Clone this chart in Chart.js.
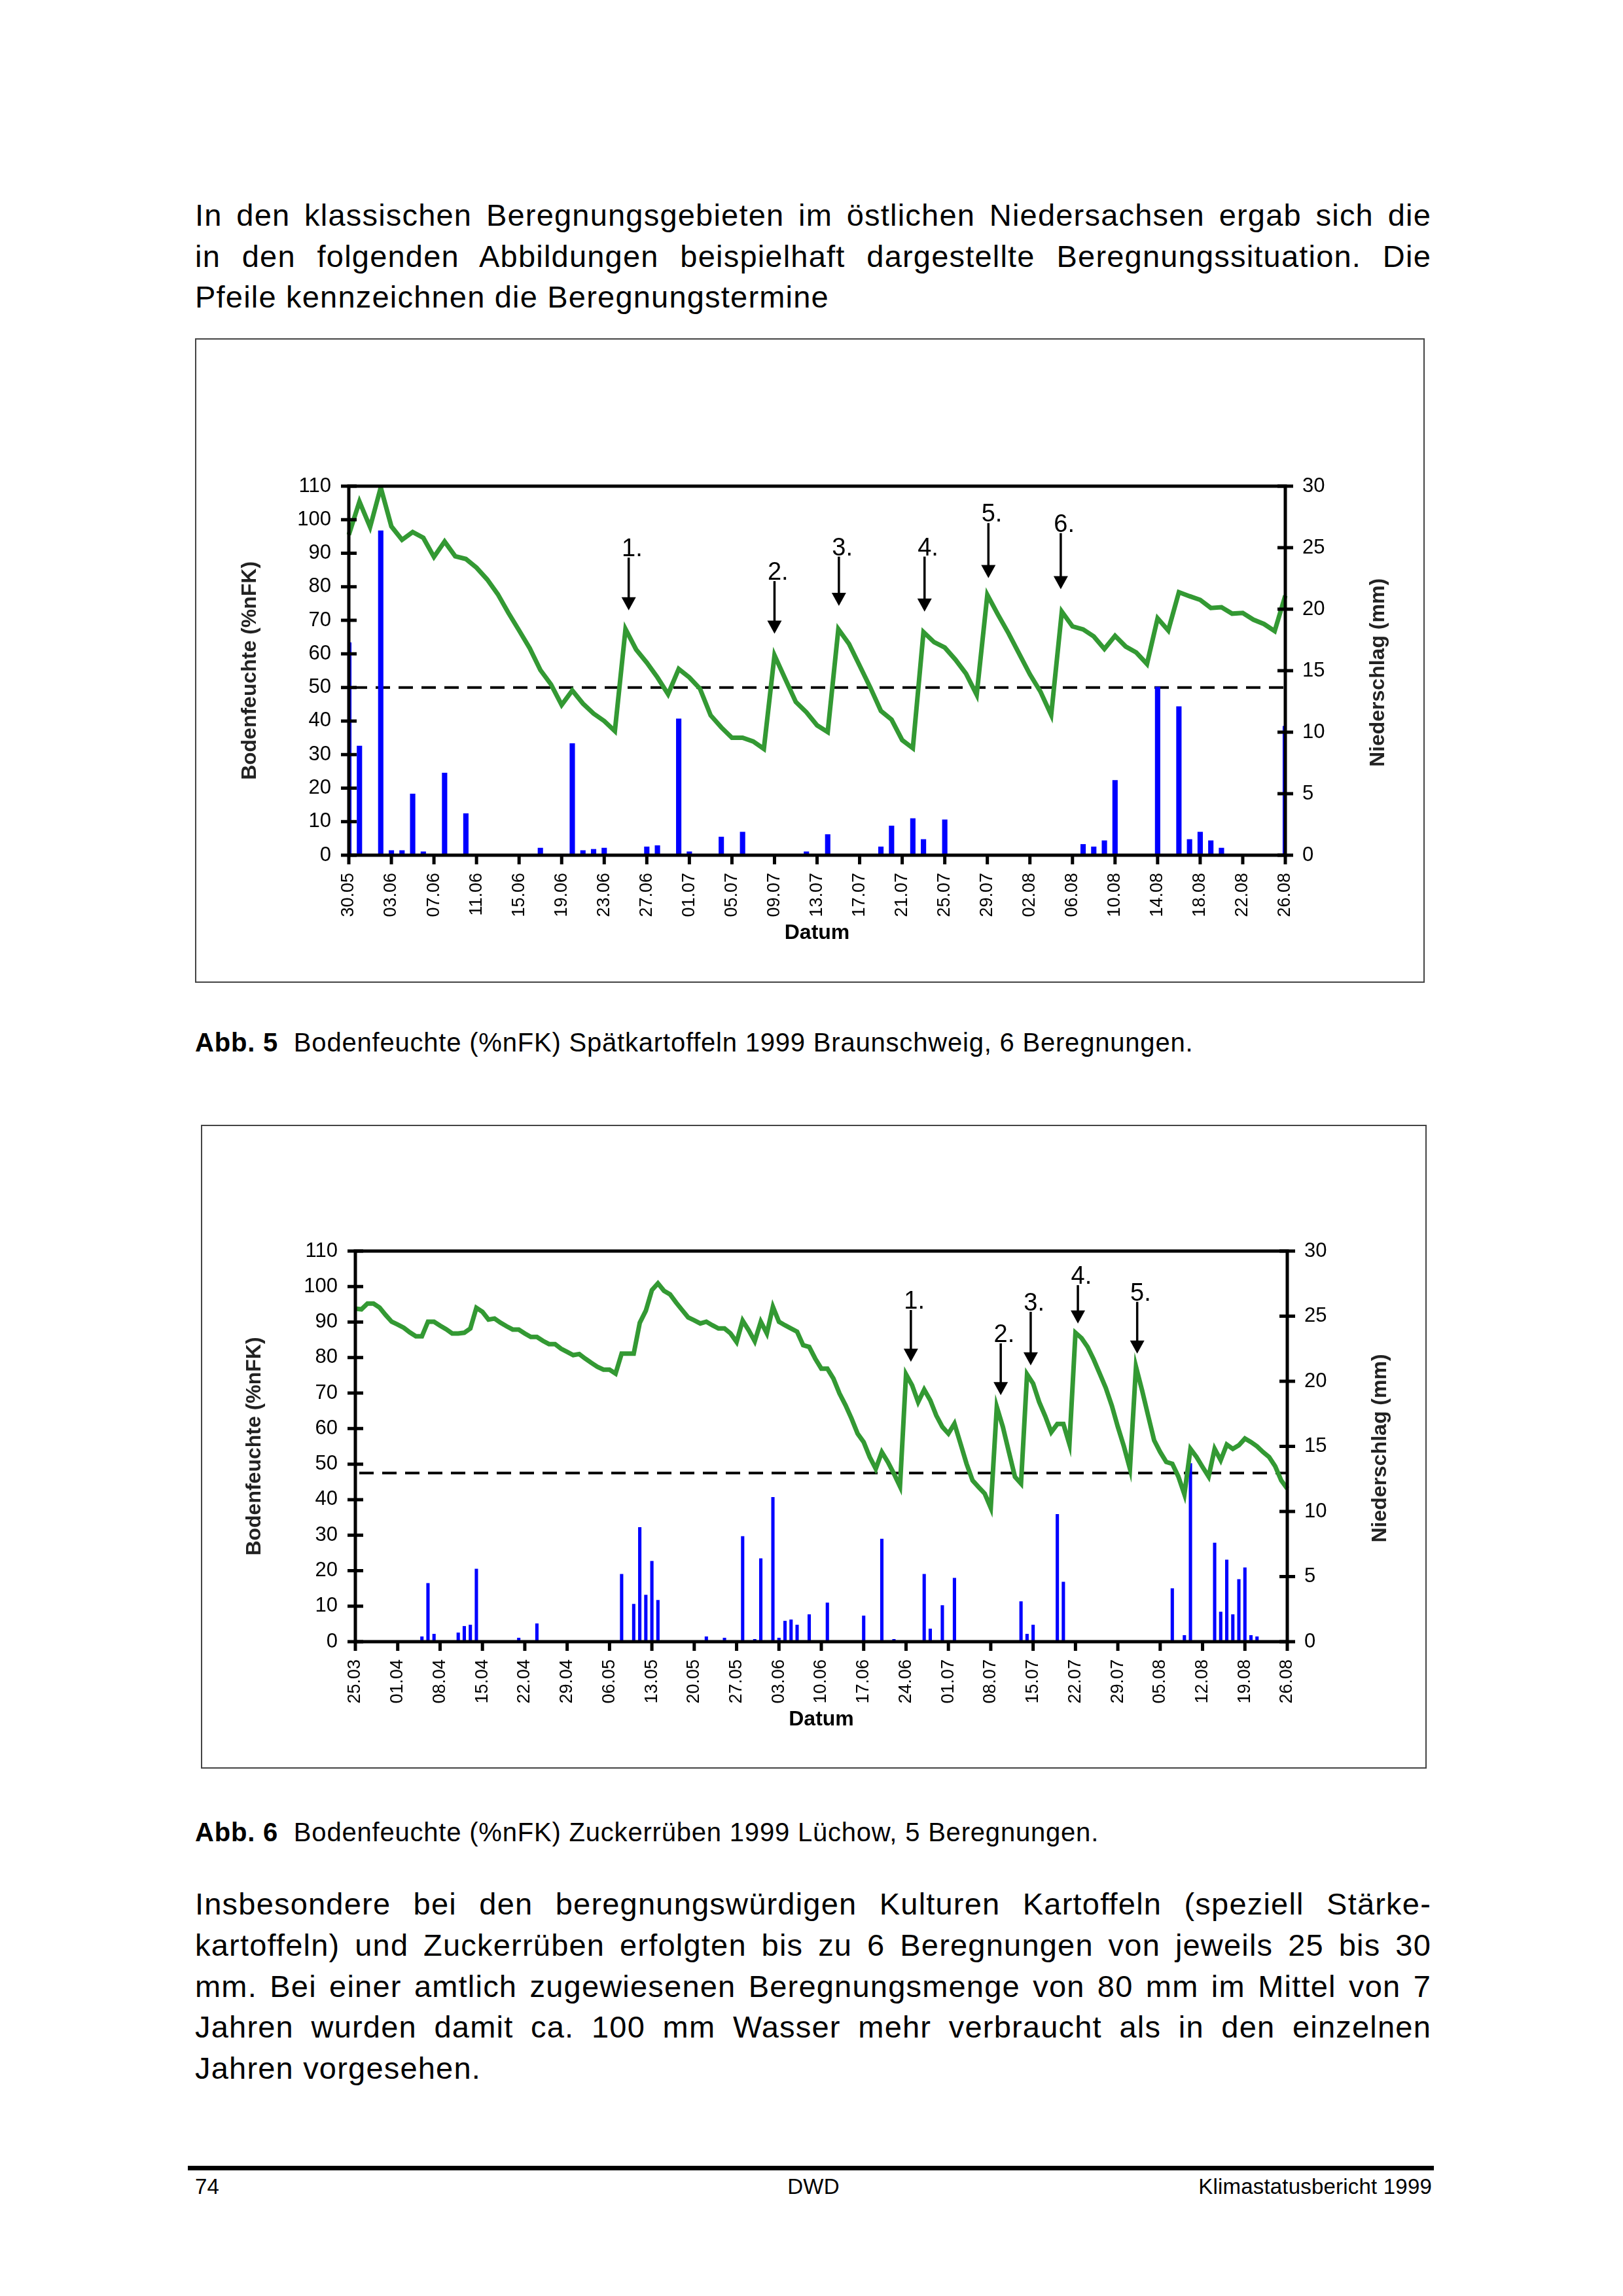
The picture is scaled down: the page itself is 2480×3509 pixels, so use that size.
<!DOCTYPE html>
<html><head><meta charset="utf-8">
<script src="https://cdn.jsdelivr.net/npm/chart.js@4.4.1/dist/chart.umd.min.js"></script>
<style>
html,body{margin:0;padding:0;background:#fff;}
body{width:2480px;height:3509px;position:relative;overflow:hidden;font-family:"Liberation Sans",Arial,sans-serif;color:#000;}
.ln{position:absolute;left:298px;width:1889px;font-size:47px;line-height:47px;letter-spacing:1.2px;}
.j{text-align:justify;text-align-last:justify;}
.cap{position:absolute;left:298px;font-size:40px;line-height:40px;letter-spacing:0.8px;white-space:nowrap;}
.ft{position:absolute;font-size:33px;line-height:33px;letter-spacing:0.2px;white-space:nowrap;}
.frame{position:absolute;}
.frame canvas{position:absolute;left:0;top:0;}
.frame .bd{position:absolute;left:0;top:0;right:0;bottom:0;border:2px solid #444;pointer-events:none;}
</style>
</head><body>

<div class="ln j" style="top:305px">In den klassischen Beregnungsgebieten im östlichen Niedersachsen ergab sich die</div>
<div class="ln j" style="top:368px">in den folgenden Abbildungen beispielhaft dargestellte Beregnungssituation. Die</div>
<div class="ln" style="top:430px">Pfeile kennzeichnen die Beregnungstermine</div>

<div class="frame" id="f1" style="left:298px;top:517px;width:1879px;height:985px;"><canvas id="c1"></canvas><div class="bd"></div></div>

<div class="cap" style="top:1573px"><b>Abb. 5</b>&nbsp; Bodenfeuchte (%nFK) Spätkartoffeln 1999 Braunschweig, 6 Beregnungen.</div>

<div class="frame" id="f2" style="left:307px;top:1719px;width:1873px;height:984px;"><canvas id="c2"></canvas><div class="bd"></div></div>

<div class="cap" style="top:2780px"><b>Abb. 6</b>&nbsp; Bodenfeuchte (%nFK) Zuckerrüben 1999 Lüchow, 5 Beregnungen.</div>

<div class="ln j" style="top:2886px">Insbesondere bei den beregnungswürdigen Kulturen Kartoffeln (speziell Stärke-</div>
<div class="ln j" style="top:2949px">kartoffeln) und Zuckerrüben erfolgten bis zu 6 Beregnungen von jeweils 25 bis 30</div>
<div class="ln j" style="top:3012px">mm. Bei einer amtlich zugewiesenen Beregnungsmenge von 80 mm im Mittel von 7</div>
<div class="ln j" style="top:3074px">Jahren wurden damit ca. 100 mm Wasser mehr verbraucht als in den einzelnen</div>
<div class="ln" style="top:3137px">Jahren vorgesehen.</div>

<div style="position:absolute;left:287px;top:3310px;width:1904px;height:7px;background:#000;"></div>
<div class="ft" style="left:298px;top:3325px">74</div>
<div class="ft" style="left:1243px;top:3325px;transform:translateX(-50%)">DWD</div>
<div class="ft" style="right:292px;top:3325px">Klimastatusbericht 1999</div>

<script>
// ---------- DATA ----------
// Chart 1: Spätkartoffeln Braunschweig, daily from 30.05.1999 to 26.08.1999
const soil1 = [95.5, 105.4, 97.8, 109.6, 98, 94, 96.3, 94.6, 88.9, 93.5,
  89.1, 88.3, 85.7, 82.2, 77.8, 72.2, 67, 61.7, 55.2, 50.9,
  44.8, 49.1, 45.2, 42.2, 40, 37, 67.4, 61.3, 57.4, 53,
  48, 55.5, 53, 49.6, 41.7, 38.1, 35, 35, 33.9, 31.7,
  59.6, 52.6, 45.7, 42.6, 38.7, 36.7, 67.4, 63, 56.5, 50,
  43, 40.4, 34.3, 31.9, 66.5, 63.5, 61.9, 58.3, 54.1, 47.8,
  77.6, 71.7, 66.1, 60, 53.9, 48.7, 41.8, 72.6, 68.2, 67.3,
  65.2, 61.5, 65.4, 62.2, 60.4, 57, 70.6, 67, 78.4, 77.2,
  76.1, 73.7, 73.9, 72, 72.2, 70.2, 68.9, 66.8, 77.4];
const rain1 = [17.3, 8.9, 0, 26.4, 0.4, 0.4, 5.0, 0.3, 0, 6.7,
  0, 3.4, 0, 0, 0, 0, 0, 0, 0.6, 0,
  0, 9.1, 0.4, 0.5, 0.6, 0, 0, 0, 0.7, 0.8,
  0, 11.1, 0.3, 0, 0, 1.5, 0, 1.9, 0, 0,
  0, 0, 0, 0.3, 0, 1.7, 0, 0, 0, 0,
  0.7, 2.4, 0, 3.0, 1.3, 0, 2.9, 0, 0, 0,
  0, 0, 0, 0, 0, 0, 0, 0, 0, 0.9,
  0.7, 1.2, 6.1, 0, 0, 0, 13.7, 0, 12.1, 1.3,
  1.9, 1.2, 0.6, 0, 0, 0, 0, 0, 10.5];
const threshold1 = 50;
const tickStep1 = 4;
const arrowLabels1 = ['1.', '2.', '3.', '4.', '5.', '6.'];
const arrowDay1 = [26.3, 40.0, 46.05, 54.1, 60.1, 66.9];
const arrowTop1 = [88.7, 81.7, 89, 89, 99, 96];
const arrowTip1 = [73, 66, 74.3, 72.6, 82.6, 79.3];

// Chart 2: Zuckerrüben Lüchow, daily from 25.03.1999 to 26.08.1999
const soil2 = [93.8, 93.6, 95.2, 95.2, 94.1, 92, 90.1, 89.3, 88.4, 87.1,
  86, 86, 90.1, 90.1, 89, 88, 86.8, 86.8, 87, 88.2,
  94, 92.9, 90.7, 91, 89.8, 88.8, 87.9, 87.9, 86.8, 85.8,
  85.8, 84.7, 83.8, 83.8, 82.5, 81.6, 80.7, 81, 79.7, 78.5,
  77.4, 76.6, 76.6, 75.5, 81.1, 81.1, 81.1, 89.8, 93.2, 99,
  100.9, 98.8, 97.8, 95.5, 93.4, 91.3, 90.5, 89.6, 90.1, 89.1,
  88.2, 88.2, 86.8, 84.4, 90.4, 87.7, 84.6, 90.1, 86.8, 94.3,
  90.1, 89.1, 88.2, 87.3, 83.5, 83, 79.7, 76.9, 76.9, 74.1,
  69.9, 66.6, 62.8, 58.6, 56.2, 52, 48.7, 53.4, 50.6, 47.3,
  43.7, 75.3, 72.2, 67.5, 71, 68, 63.7, 60.5, 58.6, 61.4,
  55.8, 50.1, 45.4, 43.5, 41.7, 37.7, 66.1, 60.5, 53.4, 46.4,
  44.5, 75.3, 72.7, 67.5, 63.5, 59, 61.3, 61.3, 55.6, 87,
  85.5, 83, 79.5, 75.5, 71.5, 66.5, 60.5, 55, 48.7, 77.4,
  70.8, 63.7, 56.7, 53.4, 50.6, 50.1, 46.5, 41.5, 54.3, 52,
  49.2, 46.5, 54.3, 51.1, 55.5, 54.3, 55.3, 57.2, 56.2, 55,
  53.4, 52, 49.4, 45.4, 43.1];
const rain2 = [0, 0, 0, 0, 0, 0, 0, 0, 0, 0,
  0, 0.4, 4.5, 0.6, 0, 0, 0, 0.7, 1.2, 1.3,
  5.6, 0, 0, 0, 0, 0, 0, 0.3, 0, 0,
  1.4, 0, 0, 0, 0, 0, 0, 0, 0, 0,
  0, 0, 0, 0, 5.2, 0, 2.9, 8.8, 3.6, 6.2,
  3.2, 0, 0, 0, 0, 0, 0, 0, 0.4, 0,
  0, 0.3, 0, 0, 8.1, 0, 0.2, 6.4, 0, 11.1,
  0.3, 1.6, 1.7, 1.3, 0, 2.1, 0, 0, 3.0, 0,
  0, 0, 0, 0, 2.0, 0, 0, 7.9, 0, 0.2,
  0, 0, 0, 0, 5.2, 1.0, 0, 2.8, 0, 4.9,
  0, 0, 0, 0, 0, 0, 0, 0, 0, 0,
  3.1, 0.6, 1.3, 0, 0, 0, 9.8, 4.6, 0, 0,
  0, 0, 0, 0, 0, 0, 0, 0, 0, 0,
  0, 0, 0, 0, 0, 4.1, 0, 0.5, 13.7, 0,
  0, 0, 7.6, 2.3, 6.3, 2.1, 4.8, 5.7, 0.5, 0.4,
  0, 0, 0, 0, 0];
const threshold2 = 47.5;
const tickStep2 = 7;
const arrowLabels2 = ['1.', '2.', '3.', '4.', '5.'];
const arrowDay2 = [91.8, 106.65, 111.6, 119.4, 129.2];
const arrowTop2 = [93.4, 84, 92.9, 100.4, 95.7];
const arrowTip2 = [78.8, 69.4, 77.8, 89.6, 81.1];

// date categories
function dateLabels(y, m, d, n) {
  const out = [];
  for (let i = 0; i < n; i++) {
    const t = new Date(Date.UTC(y, m, d + i));
    out.push(String(t.getUTCDate()).padStart(2, '0') + '.' + String(t.getUTCMonth() + 1).padStart(2, '0'));
  }
  return out;
}
const labels1 = dateLabels(1999, 4, 30, soil1.length);
const labels2 = dateLabels(1999, 2, 25, soil2.length);

// ---------- RENDERING ----------
const FAM = '"Liberation Sans", Arial, sans-serif';
const NARROW = '"Liberation Sans Narrow", "Liberation Sans", Arial, sans-serif';
function fitSize(family, sample, target) {
  const c = document.createElement('canvas').getContext('2d');
  c.font = '100px ' + family;
  return Math.min(34, Math.round(100 * target / c.measureText(sample).width));
}
const xFontSize = fitSize(NARROW, '26.08', 68);

const decor = {
  id: 'decor',
  beforeDatasetsDraw(chart, args, o) {
    const {ctx, chartArea: a, scales} = chart;
    const y = scales.y.getPixelForValue(o.threshold);
    ctx.save();
    ctx.strokeStyle = '#000';
    ctx.lineWidth = 4;
    ctx.setLineDash([22, 13]);
    ctx.beginPath(); ctx.moveTo(a.left + 6, y); ctx.lineTo(a.right, y); ctx.stroke();
    ctx.restore();
  },
  afterDatasetsDraw(chart, args, o) {
    const {ctx, chartArea: a, scales} = chart;
    const xs = scales.x, ys = scales.y, ys1 = scales.y1;
    ctx.save();
    ctx.strokeStyle = '#000';
    ctx.fillStyle = '#000';
    ctx.lineWidth = 5;
    ctx.lineJoin = 'miter';
    ctx.strokeRect(a.left, a.top, a.width, a.height);
    ctx.beginPath();
    ys.ticks.forEach(t => { const p = ys.getPixelForValue(t.value); ctx.moveTo(a.left - 12, p); ctx.lineTo(a.left + 12, p); });
    ys1.ticks.forEach(t => { const p = ys1.getPixelForValue(t.value); ctx.moveTo(a.right - 12, p); ctx.lineTo(a.right + 12, p); });
    const n = chart.data.labels.length;
    for (let i = 0; i < n; i += o.step) { const p = xs.getPixelForValue(i); ctx.moveTo(p, a.bottom); ctx.lineTo(p, a.bottom + 14); }
    ctx.stroke();
    // arrows
    ctx.font = '38px ' + FAM;
    ctx.textAlign = 'left';
    ctx.textBaseline = 'alphabetic';
    o.arrowLabels.forEach((lab, i) => {
      const x = xs.getPixelForValue(o.arrowDay[i]);
      const yT = ys.getPixelForValue(o.arrowTop[i]);
      const yP = ys.getPixelForValue(o.arrowTip[i]);
      ctx.lineWidth = 3.5;
      ctx.beginPath(); ctx.moveTo(x, yT); ctx.lineTo(x, yP - 16); ctx.stroke();
      ctx.beginPath(); ctx.moveTo(x - 11, yP - 20); ctx.lineTo(x + 11, yP - 20); ctx.lineTo(x, yP); ctx.closePath(); ctx.fill();
      const dw = ctx.measureText(lab.charAt(0)).width;
      ctx.fillText(lab, x - dw / 2, yT - 2);
    });
    // right axis title (reads bottom to top)
    ctx.font = 'bold 32px ' + FAM;
    ctx.fillStyle = '#222';
    ctx.textAlign = 'center';
    ctx.textBaseline = 'middle';
    ctx.translate(chart.width - o.rightTitleOffset, a.top + a.height / 2 + 3);
    ctx.rotate(-Math.PI / 2);
    ctx.fillText('Niederschlag (mm)', 0, 0);
    ctx.restore();
  }
};

function makeChart(id, cfg) {
  return new Chart(document.getElementById(id), {
    type: 'bar',
    data: {
      labels: cfg.labels,
      datasets: [
        {type: 'line', data: cfg.soil, yAxisID: 'y', borderColor: '#339933', borderWidth: 7,
         pointRadius: 0, tension: 0, fill: false, order: 1, borderJoinStyle: 'miter'},
        {type: 'bar', data: cfg.rain, yAxisID: 'y1', backgroundColor: '#0000ff', borderWidth: 0,
         barPercentage: cfg.barPct, categoryPercentage: 1, order: 2}
      ]
    },
    options: {
      responsive: true, maintainAspectRatio: false, animation: false, events: [],
      layout: {padding: {top: cfg.padTop, left: 0, right: 0, bottom: 0}},
      plugins: {legend: {display: false}, tooltip: {enabled: false},
        decor: {threshold: cfg.threshold, step: cfg.step, arrowLabels: cfg.arrowLabels, arrowDay: cfg.arrowDay,
                arrowTop: cfg.arrowTop, arrowTip: cfg.arrowTip, rightTitleOffset: cfg.rightTitleOffset}},
      scales: {
        x: {type: 'category', offset: false,
            grid: {display: false, drawTicks: false, offset: false}, border: {display: false},
            ticks: {autoSkip: false, minRotation: 90, maxRotation: 90, padding: 27, color: '#000',
                    font: {family: NARROW, size: xFontSize},
                    callback: (v, i) => (i % cfg.step === 0 ? cfg.labels[i] : null)},
            title: {display: true, text: 'Datum', color: '#000', font: {family: FAM, size: 32, weight: 'bold'},
                    padding: {top: 0, bottom: cfg.datumPad}},
            afterFit: s => { s.height = cfg.xHeight; }},
        y: {position: 'left', min: 0, max: 110, grid: {display: false, drawTicks: false}, border: {display: false},
            ticks: {stepSize: 10, padding: 27, color: '#000', font: {family: FAM, size: 31}},
            title: {display: true, text: 'Bodenfeuchte (%nFK)', color: '#222', font: {family: FAM, size: 32, weight: 'bold'},
                    padding: {top: cfg.leftTitlePad, bottom: 0}},
            afterFit: s => { s.width = cfg.leftW; }},
        y1: {position: 'right', min: 0, max: 30, grid: {display: false, drawTicks: false}, border: {display: false},
             ticks: {stepSize: 5, padding: 26, color: '#000', font: {family: FAM, size: 31}},
             afterFit: s => { s.width = cfg.rightW; }}
      }
    },
    plugins: [decor]
  });
}

makeChart('c1', {labels: labels1, soil: soil1, rain: rain1, threshold: threshold1, step: tickStep1,
  arrowLabels: arrowLabels1, arrowDay: arrowDay1, arrowTop: arrowTop1, arrowTip: arrowTip1,
  barPct: 0.5, padTop: 226, xHeight: 195, leftW: 235, rightW: 213,
  leftTitlePad: 65, rightTitleOffset: 71, datumPad: 57});
makeChart('c2', {labels: labels2, soil: soil2, rain: rain2, threshold: threshold2, step: tickStep2,
  arrowLabels: arrowLabels2, arrowDay: arrowDay2, arrowTop: arrowTop2, arrowTip: arrowTip2,
  barPct: 0.55, padTop: 193, xHeight: 194, leftW: 236, rightW: 213,
  leftTitlePad: 63, rightTitleOffset: 71, datumPad: 56});
</script>
</body></html>
